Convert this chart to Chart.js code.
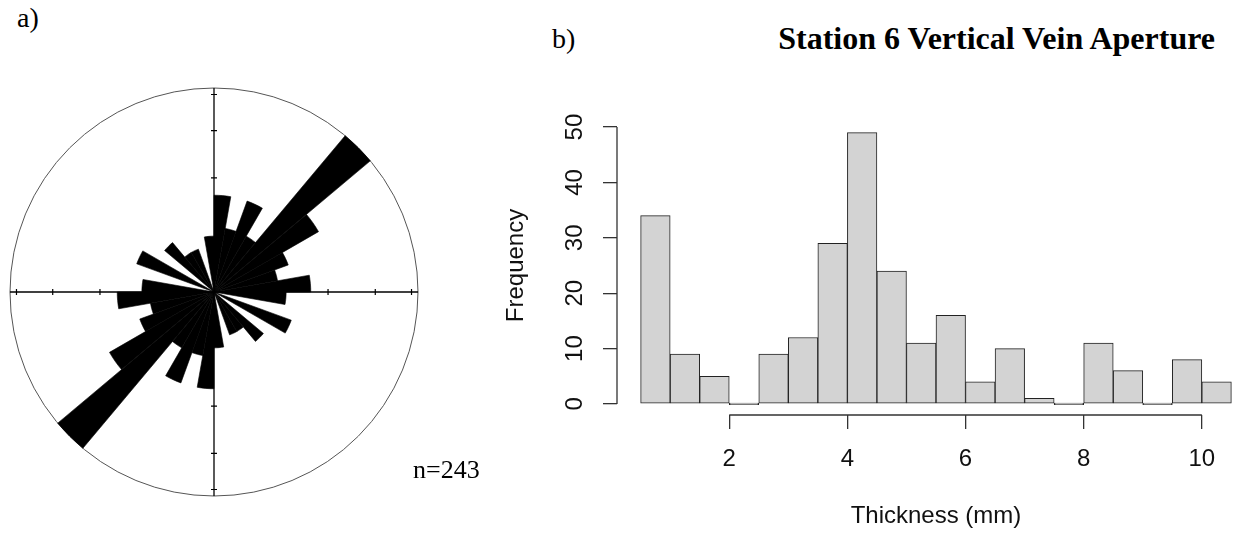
<!DOCTYPE html>
<html>
<head>
<meta charset="utf-8">
<script src="https://cdn.jsdelivr.net/npm/chart.js@4.4.1/dist/chart.umd.min.js"></script>
<style>
    html, body { margin: 0; padding: 0; background: #fff; }
    body { width: 1236px; height: 533px; position: relative; overflow: hidden; }
    .txt { position: absolute; font-family: "Liberation Serif", "Times New Roman", serif; color: #000; white-space: nowrap; line-height: 1; z-index: 2; }
    #rose { position: absolute; left: 9px; top: 87px; }
    #hist { position: absolute; left: 480px; top: 60px; }
</style>
</head>
<body>
<canvas id="rose" width="410" height="410"></canvas>
<canvas id="hist" width="775" height="473"></canvas>
<div class="txt" style="left:17px; top:4px; font-size:28px;">a)</div>
<div class="txt" style="left:552px; top:25px; font-size:28px;">b)</div>
<div class="txt" style="right:21px; top:22px; font-size:32px; font-weight:bold;">Station 6 Vertical Vein Aperture</div>
<div class="txt" style="left:413px; top:457px; font-size:26px;">n=243</div>
<script>
// rose diagram: 10 degree bins from north, plotted both ways (bidirectional)
const roseBinStart = [0, 10, 20, 30, 40, 50, 60, 70, 80, 90, 100, 110, 120, 130, 140, 150, 160, 170];
const roseCounts = [18, 8, 18, 8, 80, 28, 12, 8, 18, 10, 0, 13, 0, 8, 4, 4, 0, 6];
const roseTicks = [25, 50, 75];
const roseMax = 80;

// histogram of vein thickness, 0.5 mm bins
const thicknessBinStart = [0.5, 1, 1.5, 2, 2.5, 3, 3.5, 4, 4.5, 5, 5.5, 6, 6.5, 7, 7.5, 8, 8.5, 9, 9.5, 10];
const frequency = [34, 9, 5, 0, 9, 12, 29, 49, 24, 11, 16, 4, 10, 1, 0, 11, 6, 0, 8, 4];
const binWidth = 0.5;
const thicknessTicks = [2, 4, 6, 8, 10];
const frequencyTicks = [0, 10, 20, 30, 40, 50];

const SANS = "'Liberation Sans', Arial, sans-serif";

// equal-area rose: radius grows with the square root of the count
class SqrtRadialScale extends Chart.RadialLinearScale {
    getDistanceFromCenterForValue(value) {
        if (value === null || value === undefined || isNaN(value)) {
            return NaN;
        }
        const frac = Math.max(0, (value - this.min) / (this.max - this.min));
        return this.drawingArea * Math.sqrt(frac);
    }
}
SqrtRadialScale.id = 'sqrtRadial';
SqrtRadialScale.defaults = Chart.RadialLinearScale.defaults;
Chart.register(SqrtRadialScale);

const roseTickMarks = {
    id: 'roseTickMarks',
    afterDatasetsDraw(chart) {
        const r = chart.scales.r;
        const ctx = chart.ctx;
        const cx = r.xCenter;
        const cy = r.yCenter;
        ctx.save();
        ctx.strokeStyle = '#000';
        ctx.lineWidth = 1.2;
        ctx.beginPath();
        roseTicks.forEach(v => {
            const d = r.getDistanceFromCenterForValue(v);
            ctx.moveTo(cx - 3, cy - d); ctx.lineTo(cx + 3, cy - d);
            ctx.moveTo(cx - 3, cy + d); ctx.lineTo(cx + 3, cy + d);
            ctx.moveTo(cx - d, cy - 3); ctx.lineTo(cx - d, cy + 3);
            ctx.moveTo(cx + d, cy - 3); ctx.lineTo(cx + d, cy + 3);
        });
        ctx.stroke();
        ctx.restore();
    }
};

// R style axes: lines only span first to last tick
const rAxes = {
    id: 'rAxes',
    afterDatasetsDraw(chart) {
        const {ctx, chartArea, scales: {x, y}} = chart;
        ctx.save();
        ctx.strokeStyle = '#333';
        ctx.lineWidth = 1.3;
        ctx.beginPath();
        ctx.moveTo(x.getPixelForValue(thicknessTicks[0]), chartArea.bottom);
        ctx.lineTo(x.getPixelForValue(thicknessTicks[thicknessTicks.length - 1]), chartArea.bottom);
        ctx.moveTo(chartArea.left, y.getPixelForValue(frequencyTicks[0]));
        ctx.lineTo(chartArea.left, y.getPixelForValue(frequencyTicks[frequencyTicks.length - 1]));
        ctx.stroke();
        ctx.restore();
    }
};

class Main {
    constructor() {
        this.roseCanvas = document.getElementById('rose');
        this.histCanvas = document.getElementById('hist');

        this.initRose();
        this.initHistogram();
    }

    initRose() {
        const labels = roseBinStart.concat(roseBinStart.map(a => a + 180)).map(a => a + '-' + (a + 10) + '°');
        const config = {
            type: 'polarArea',
            data: {
                labels: labels,
                datasets: [{
                    label: 'Strike',
                    data: roseCounts.concat(roseCounts),
                    backgroundColor: '#000',
                    borderColor: '#000',
                    borderWidth: 0.6
                }]
            },
            options: {
                responsive: false,
                animation: false,
                events: [],
                layout: { padding: 1 },
                plugins: {
                    legend: { display: false },
                    tooltip: { enabled: false }
                },
                scales: {
                    r: {
                        type: 'sqrtRadial',
                        min: 0,
                        max: roseMax,
                        startAngle: 0,
                        afterBuildTicks: scale => {
                            scale.ticks = [{ value: 0 }, { value: roseMax }];
                        },
                        ticks: { display: false },
                        pointLabels: { display: false },
                        grid: { circular: true, color: '#555', lineWidth: 1 },
                        angleLines: {
                            display: true,
                            lineWidth: 1.3,
                            color: ctx => (ctx.index % 9 === 0 ? '#000' : 'transparent')
                        }
                    }
                }
            },
            plugins: [roseTickMarks]
        };
        new Chart(this.roseCanvas, config);
    }

    initHistogram() {
        const points = thicknessBinStart.map((s, i) => ({ x: s + binWidth / 2, y: frequency[i] }));
        const config = {
            type: 'bar',
            data: {
                datasets: [{
                    label: 'Frequency',
                    data: points,
                    backgroundColor: '#d3d3d3',
                    borderColor: '#222',
                    borderWidth: 1,
                    borderSkipped: false,
                    barPercentage: 1,
                    categoryPercentage: 1,
                    minBarLength: 1.5
                }]
            },
            options: {
                responsive: false,
                animation: false,
                events: [],
                layout: { padding: { top: 56, left: 0, right: 0, bottom: 0 } },
                plugins: {
                    legend: { display: false },
                    tooltip: { enabled: false }
                },
                scales: {
                    x: {
                        type: 'linear',
                        offset: false,
                        min: 0.1,
                        max: 10.9,
                        afterBuildTicks: scale => {
                            scale.ticks = thicknessTicks.map(v => ({ value: v }));
                        },
                        afterFit: scale => { scale.height = 118; },
                        ticks: { color: '#111', font: { family: SANS, size: 24 }, padding: 16, maxRotation: 0, autoSkip: false },
                        grid: { display: true, offset: false, drawOnChartArea: false, drawTicks: true, tickLength: 14, color: '#333', lineWidth: 1.3 },
                        border: { display: false },
                        title: {
                            display: true,
                            text: 'Thickness (mm)',
                            color: '#111',
                            font: { family: SANS, size: 24 },
                            padding: { top: 0, bottom: 2 }
                        }
                    },
                    y: {
                        min: -2,
                        max: 52,
                        afterBuildTicks: scale => {
                            scale.ticks = frequencyTicks.map(v => ({ value: v }));
                        },
                        afterFit: scale => { scale.width = 137; },
                        ticks: { color: '#111', font: { family: SANS, size: 24 }, padding: 14, minRotation: 90, maxRotation: 90, crossAlign: 'center', autoSkip: false },
                        grid: { display: true, drawOnChartArea: false, drawTicks: true, tickLength: 14, color: '#333', lineWidth: 1.3 },
                        border: { display: false },
                        title: {
                            display: true,
                            text: 'Frequency',
                            color: '#111',
                            font: { family: SANS, size: 24 },
                            padding: { top: 22, bottom: 0 }
                        }
                    }
                }
            },
            plugins: [rAxes]
        };
        new Chart(this.histCanvas, config);
    }
}

window.onload = () => {
    new Main();
}
</script>
</body>
</html>
